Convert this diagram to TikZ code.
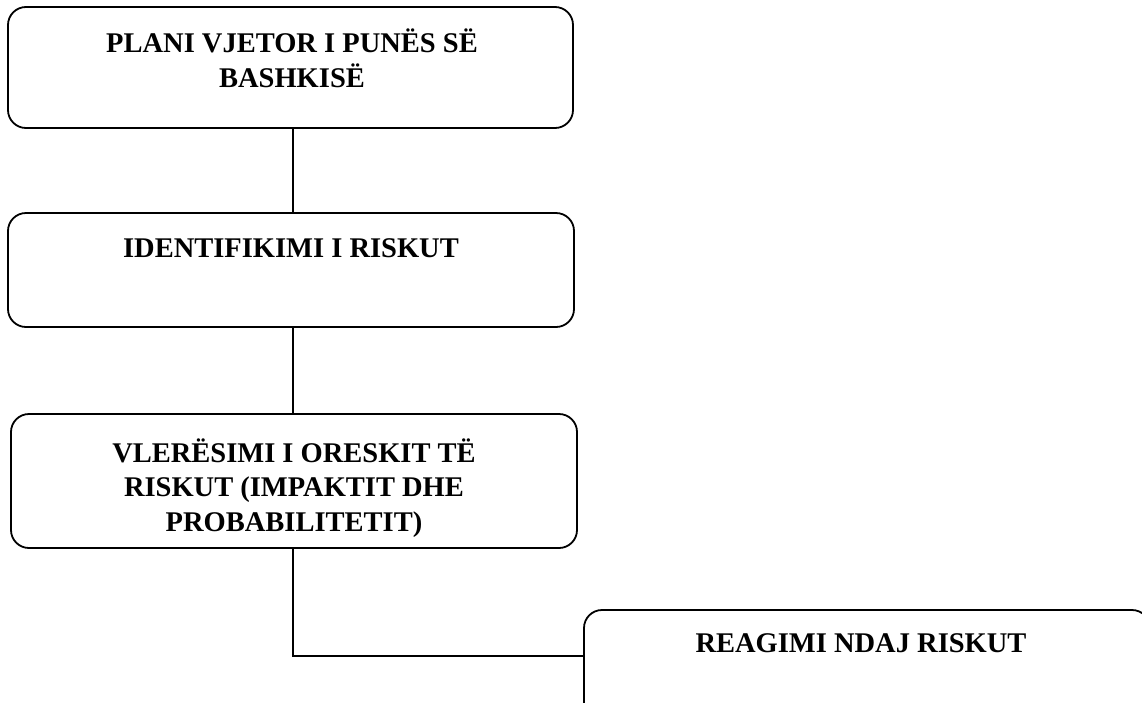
\documentclass[tikz,border=0pt]{standalone}
\usepackage{fontspec}
\setmainfont{Liberation Serif}
\begin{document}
\begin{tikzpicture}[x=1pt,y=-1pt,
  boxstyle/.style={draw, line width=1.8pt, rounded corners=18pt, minimum width=#1, inner sep=0pt},
  boxstyle/.default=566pt,
  labelstyle/.style={align=center, inner sep=0pt, anchor=base, font=\fontsize{28.5}{34.5}\selectfont\bfseries},
  linkstyle/.style={line width=1.6pt}]
\useasboundingbox (0,0) rectangle (1142,702);
\clip (0,0) rectangle (1142,702);
\node[boxstyle=565pt, minimum height=121pt] (b1) at (290.5,67.5) {};
\node[boxstyle, minimum height=114pt] (b2) at (291,270) {};
\node[boxstyle, minimum height=134pt] (b3) at (294,481) {};
\node[boxstyle, minimum height=130pt] (b4) at (867,675) {};
% anchor=base of a multi-line node lies on its last line
\node[labelstyle] (t1) at (292,87) {PLANI VJETOR I PUNËS SË\\BASHKISË};
\node[labelstyle] (t2) at (291,257) {IDENTIFIKIMI I RISKUT};
\node[labelstyle] (t3) at (294,531) {VLERËSIMI I ORESKIT TË\\RISKUT (IMPAKTIT DHE\\PROBABILITETIT)};
\node[labelstyle] (t4) at (861,652) {REAGIMI NDAJ RISKUT};
\coordinate (cx) at (293,0);
\coordinate (turn) at (293,656);
\draw[linkstyle] (b1.south -| cx) -- (b2.north -| cx);
\draw[linkstyle] (b2.south -| cx) -- (b3.north -| cx);
\draw[linkstyle] (b3.south -| cx) -- (turn) -- (turn -| b4.west);
\end{tikzpicture}
\end{document}
